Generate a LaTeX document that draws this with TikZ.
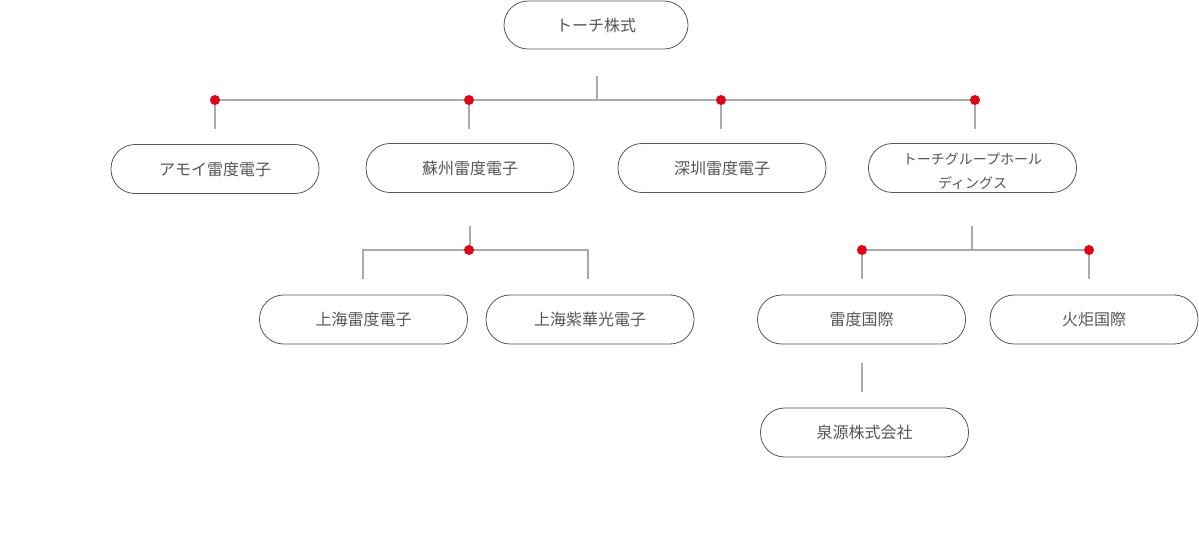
\documentclass[tikz,border=0pt]{standalone}
\usepackage{fontspec}
\setmainfont{Noto Sans CJK JP}
\usetikzlibrary{calc}
\definecolor{boxline}{HTML}{555555}
\definecolor{txtc}{HTML}{555555}
\definecolor{connc}{HTML}{AAAAAA}
\definecolor{dotred}{HTML}{E60012}
\tikzset{
  orgbox/.style={draw=boxline, line width=0.8pt, rounded corners=24pt,
    minimum width=208pt, minimum height=49pt, text=txtc,
    font=\fontsize{16}{20}\selectfont, inner sep=0pt, align=center},
  connline/.style={draw=connc, line width=2pt},
  jdot/.style={fill=dotred, circle, inner sep=0pt, minimum size=10pt}
}
\begin{document}
\begin{tikzpicture}[x=1pt,y=-1pt]
\useasboundingbox (0,0) rectangle (1199,548);
% boxes
\node[orgbox, minimum width=184pt, minimum height=48pt] (root) at (596,25) {トーチ株式};
\node[orgbox] (a) at (215,169) {アモイ雷度電子};
\node[orgbox] (b) at (470,168) {蘇州雷度電子};
\node[orgbox] (c) at (722,168) {深圳雷度電子};
\node[orgbox] (d) at (972.5,168) {};
\node[text=txtc, font=\fontsize{14}{24}\selectfont, inner sep=0pt, align=center] (dtxt) at ($(d.center)+(0,3)$) {トーチグループホール\\ディングス};
\node[orgbox] (e) at (363.5,319.5) {上海雷度電子};
\node[orgbox] (f) at (590,319.5) {上海紫華光電子};
\node[orgbox] (g) at (861.5,319.5) {雷度国際};
\node[orgbox] (h) at (1094,319.5) {火炬国際};
\node[orgbox] (i) at (864.5,432.5) {泉源株式会社};
% level 1 connectors
\coordinate (r0) at (597,76);
\coordinate (r1) at (597,100);
\coordinate (da) at (215,100);
\coordinate (db) at (469,100);
\coordinate (dc) at (721,100);
\coordinate (dd) at (975,100);
\coordinate (ea) at (215,129);
\coordinate (eb) at (469,129);
\coordinate (ec) at (721,129);
\coordinate (ed) at (975,129);
\draw[connline] (r0) -- (r1);
\draw[connline] (da) -- (dd);
\draw[connline] (da) -- (ea);
\draw[connline] (db) -- (eb);
\draw[connline] (dc) -- (ec);
\draw[connline] (dd) -- (ed);
\node[jdot] (pa) at (da) {};
\node[jdot] (pb) at (db) {};
\node[jdot] (pc) at (dc) {};
\node[jdot] (pd) at (dd) {};
% level 2 left
\coordinate (b0) at (470,226);
\coordinate (b1) at (470,250);
\coordinate (bl0) at (363,279);
\coordinate (bl1) at (363,250);
\coordinate (br1) at (588,250);
\coordinate (br0) at (588,279);
\draw[connline] (b0) -- (b1);
\draw[connline] (bl0) -- (bl1) -- (br1) -- (br0);
\node[jdot] (pe) at (469,250) {};
% level 2 right
\coordinate (d0) at (972,226);
\coordinate (d1) at (972,250);
\coordinate (dl1) at (862,250);
\coordinate (dl0) at (862,279);
\coordinate (dr1) at (1089,250);
\coordinate (dr0) at (1089,279);
\draw[connline] (d0) -- (d1);
\draw[connline] (dl1) -- (dr1);
\draw[connline] (dl1) -- (dl0);
\draw[connline] (dr1) -- (dr0);
\node[jdot] (pg) at (dl1) {};
\node[jdot] (ph) at (dr1) {};
% level 3
\coordinate (g0) at (862,363);
\coordinate (g1) at (862,392);
\draw[connline] (g0) -- (g1);
\end{tikzpicture}
\end{document}
